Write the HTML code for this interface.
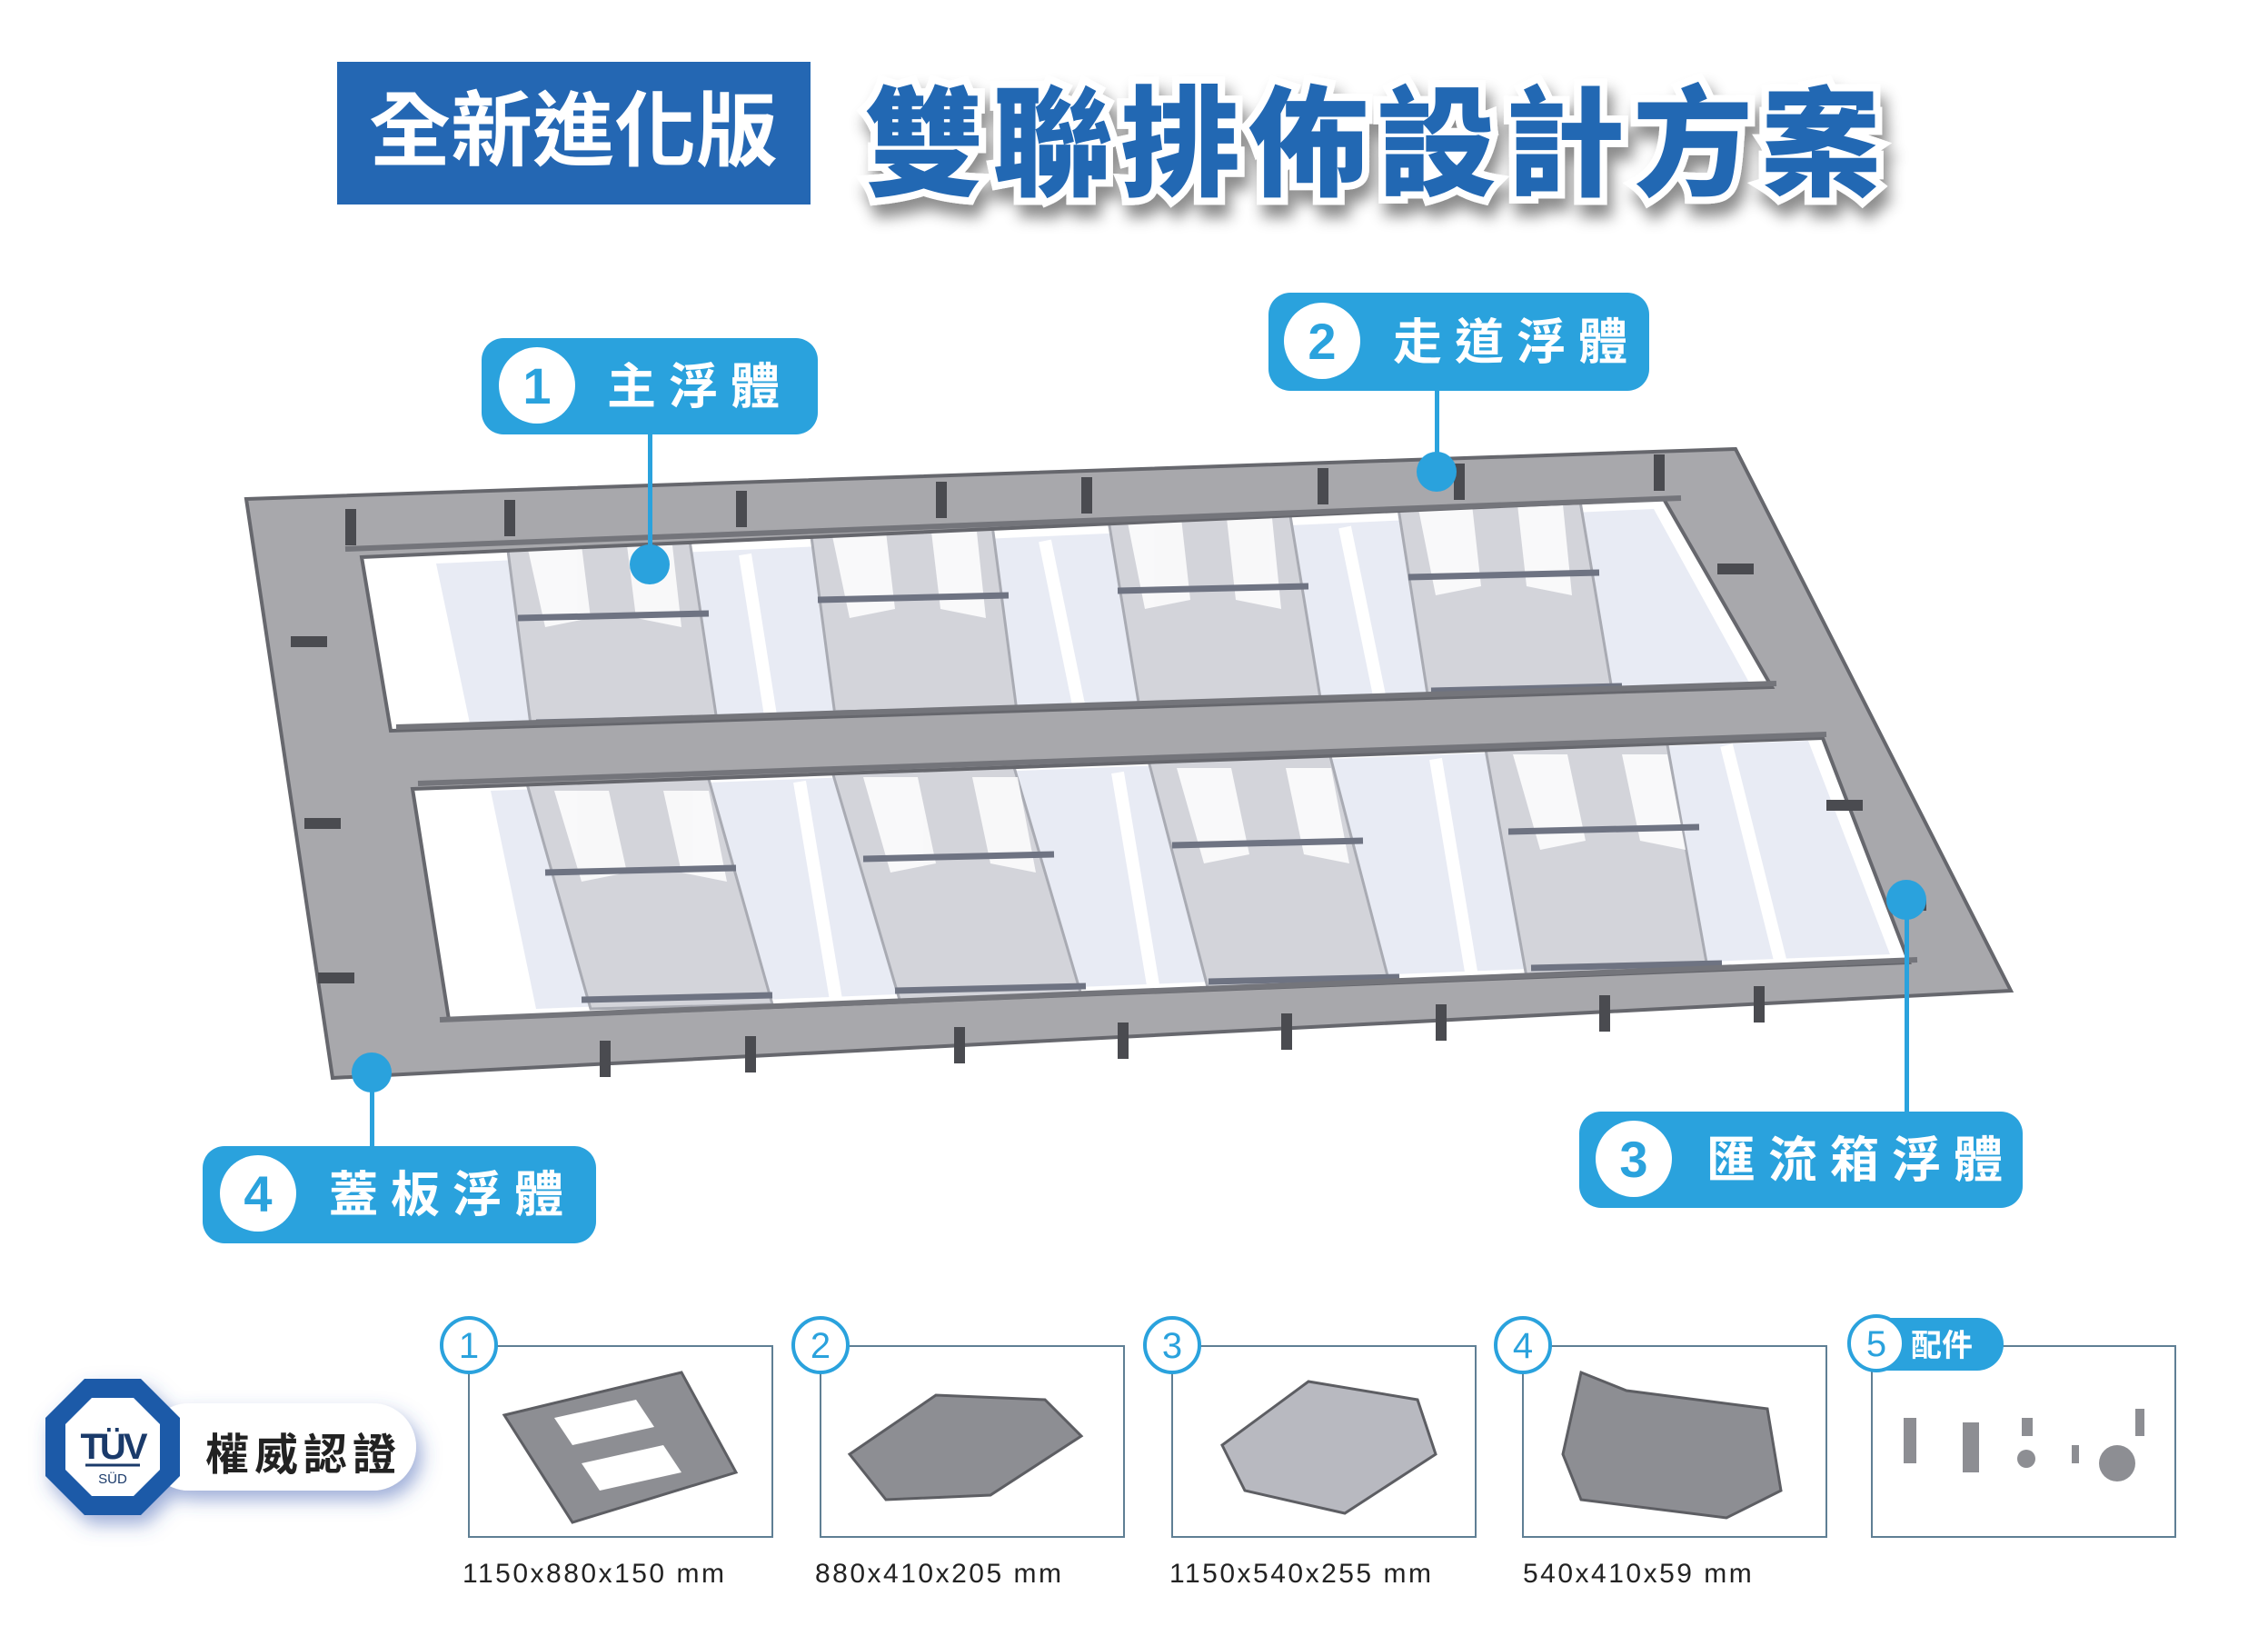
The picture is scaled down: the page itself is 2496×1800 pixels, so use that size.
<!DOCTYPE html>
<html><head><meta charset="utf-8"><style>
html,body{margin:0;padding:0;background:#fff;}
svg{display:block;}
text{font-family:"Liberation Sans","Noto Sans CJK TC",sans-serif;}
</style></head><body>
<svg width="2496" height="1800" viewBox="0 0 2496 1800" xmlns="http://www.w3.org/2000/svg">
<defs>
<filter id="sh" x="-10%" y="-20%" width="130%" height="160%"><feDropShadow dx="6" dy="14" stdDeviation="8" flood-color="#000" flood-opacity="0.45"/></filter>
<filter id="sh2" x="-20%" y="-20%" width="150%" height="160%"><feDropShadow dx="6" dy="10" stdDeviation="10" flood-color="#3b5bb0" flood-opacity="0.5"/></filter>
</defs>
<rect x="371" y="68" width="521" height="157" fill="#2467b3"/>
<text x="631" y="175" font-size="90" font-weight="bold" fill="#fff" text-anchor="middle" font-family="Noto Sans CJK TC,sans-serif">全新進化版</text>
<text x="1515" y="205" font-size="132" font-weight="900" fill="#2467b3" stroke="#fff" stroke-width="16" paint-order="stroke" text-anchor="middle" letter-spacing="9" filter="url(#sh)" font-family="Noto Sans CJK TC,sans-serif">雙聯排佈設計方案</text>

<g fill="#e6e9f3" opacity="0.9">
<polygon points="480,620 1820,560 1930,760 520,810"/>
<polygon points="540,870 1990,815 2080,1050 590,1110"/>
</g>
<g stroke="#fff" stroke-width="14">
<line x1="820" y1="610" x2="850" y2="800"/><line x1="1150" y1="595" x2="1190" y2="790"/><line x1="1480" y1="580" x2="1520" y2="775"/>
<line x1="880" y1="860" x2="920" y2="1100"/><line x1="1230" y1="850" x2="1270" y2="1090"/><line x1="1580" y1="835" x2="1620" y2="1075"/><line x1="1900" y1="820" x2="1960" y2="1060"/>
</g>
<g fill="#d3d4da" stroke="#a9abb3" stroke-width="3">
<polygon points="553,560 753,555 790,800 585,805"/>
<polygon points="887,545 1087,540 1120,790 920,795"/>
<polygon points="1213,530 1413,525 1455,780 1255,785"/>
<polygon points="1532,515 1732,510 1775,765 1572,770"/>
<polygon points="568,820 768,815 850,1105 650,1110"/>
<polygon points="903,805 1103,800 1190,1095 990,1100"/>
<polygon points="1253,795 1453,790 1530,1085 1330,1090"/>
<polygon points="1627,780 1827,775 1880,1070 1680,1075"/>
</g>
<g fill="#fff" opacity="0.85">
<polygon points="580,600 640,600 650,680 600,690"/><polygon points="690,600 740,600 750,690 700,680"/>
<polygon points="915,585 975,585 985,670 935,680"/><polygon points="1025,585 1075,585 1085,680 1035,670"/>
<polygon points="1240,570 1300,570 1310,660 1260,670"/><polygon points="1350,570 1400,570 1410,670 1360,660"/>
<polygon points="1560,555 1620,555 1630,645 1580,655"/><polygon points="1670,555 1720,555 1730,655 1680,645"/>
<polygon points="610,870 670,870 690,960 640,970"/><polygon points="730,870 780,870 800,970 750,960"/>
<polygon points="950,855 1010,855 1030,950 980,960"/><polygon points="1070,855 1120,855 1140,960 1090,950"/>
<polygon points="1295,845 1355,845 1375,940 1325,950"/><polygon points="1415,845 1465,845 1485,950 1435,940"/>
<polygon points="1665,830 1725,830 1745,925 1695,935"/><polygon points="1785,830 1835,830 1855,935 1805,925"/>
</g>
<g stroke="#6e7382" stroke-width="7">
<line x1="560" y1="570" x2="770" y2="565"/><line x1="570" y1="680" x2="780" y2="675"/><line x1="590" y1="795" x2="800" y2="790"/>
<line x1="890" y1="555" x2="1100" y2="550"/><line x1="900" y1="660" x2="1110" y2="655"/><line x1="920" y1="785" x2="1130" y2="780"/>
<line x1="1215" y1="540" x2="1425" y2="535"/><line x1="1230" y1="650" x2="1440" y2="645"/><line x1="1260" y1="775" x2="1465" y2="770"/>
<line x1="1535" y1="525" x2="1745" y2="520"/><line x1="1550" y1="635" x2="1760" y2="630"/><line x1="1575" y1="760" x2="1785" y2="755"/>
<line x1="570" y1="835" x2="780" y2="830"/><line x1="600" y1="960" x2="810" y2="955"/><line x1="640" y1="1100" x2="850" y2="1095"/>
<line x1="905" y1="820" x2="1115" y2="815"/><line x1="950" y1="945" x2="1160" y2="940"/><line x1="985" y1="1090" x2="1195" y2="1085"/>
<line x1="1255" y1="810" x2="1465" y2="805"/><line x1="1290" y1="930" x2="1500" y2="925"/><line x1="1330" y1="1080" x2="1540" y2="1075"/>
<line x1="1630" y1="795" x2="1840" y2="790"/><line x1="1660" y1="915" x2="1870" y2="910"/><line x1="1685" y1="1065" x2="1895" y2="1060"/>
</g>

<path fill-rule="evenodd" fill="#a8a8ac" stroke="#66676d" stroke-width="4"
d="M271,549 L1910,494 L2213,1090 L366,1186 Z
M398,613 L1831,549 L1950,756 L430,804 Z
M454,868 L2006,812 L2101,1059 L494,1122 Z"/>
<g stroke="#74757b" stroke-width="6" fill="none">
<path d="M380,604 L1850,548"/><path d="M436,800 L1955,752"/><path d="M460,862 L2010,808"/><path d="M484,1122 L2110,1056"/>
</g>
<g fill="#4a4b50">
<rect x="380" y="560" width="12" height="40"/><rect x="555" y="550" width="12" height="40"/><rect x="810" y="540" width="12" height="40"/><rect x="1030" y="530" width="12" height="40"/><rect x="1190" y="525" width="12" height="40"/><rect x="1450" y="515" width="12" height="40"/><rect x="1600" y="510" width="12" height="40"/><rect x="1820" y="500" width="12" height="40"/>
<rect x="820" y="1140" width="12" height="40"/><rect x="1050" y="1130" width="12" height="40"/><rect x="1230" y="1125" width="12" height="40"/><rect x="1410" y="1115" width="12" height="40"/><rect x="1580" y="1105" width="12" height="40"/><rect x="1760" y="1095" width="12" height="40"/><rect x="1930" y="1085" width="12" height="40"/><rect x="660" y="1145" width="12" height="40"/>
<rect x="320" y="700" width="40" height="12"/><rect x="335" y="900" width="40" height="12"/><rect x="350" y="1070" width="40" height="12"/>
<rect x="1890" y="620" width="40" height="12"/><rect x="2010" y="880" width="40" height="12"/><rect x="2080" y="990" width="40" height="12"/>
</g>

<g fill="#2aa2dd">
<rect x="530" y="372" width="370" height="106" rx="24"/>
<rect x="1396" y="322" width="419" height="108" rx="24"/>
<rect x="1738" y="1223" width="488" height="106" rx="24"/>
<rect x="223" y="1261" width="433" height="107" rx="24"/>
<rect x="713" y="478" width="5" height="143"/><circle cx="715" cy="621" r="22"/>
<rect x="1579" y="430" width="5" height="89"/><circle cx="1581" cy="519" r="22"/>
<rect x="2096" y="990" width="5" height="233"/><circle cx="2098" cy="990" r="22"/>
<rect x="407" y="1180" width="5" height="81"/><circle cx="409" cy="1180" r="22"/>
</g>
<g fill="#fff"><circle cx="591" cy="424" r="42"/><circle cx="1455" cy="375" r="42"/><circle cx="1798" cy="1275" r="42"/><circle cx="284" cy="1313" r="42"/></g>
<g fill="#2aa2dd" font-size="56" font-weight="bold" text-anchor="middle">
<text x="591" y="444">1</text><text x="1455" y="395">2</text><text x="1798" y="1295">3</text><text x="284" y="1333">4</text></g>
<g fill="#fff" font-size="54" font-weight="bold" letter-spacing="14" font-family="Noto Sans CJK TC,sans-serif">
<text x="668" y="444">主浮體</text><text x="1533" y="395">走道浮體</text><text x="1878" y="1295">匯流箱浮體</text><text x="362" y="1333">蓋板浮體</text></g>

<g fill="#fff" filter="url(#sh2)">
<rect x="160" y="1544" width="298" height="96" rx="48"/>
<polygon points="93,1517 155,1517 198,1560 198,1624 155,1667 93,1667 50,1624 50,1560" fill="#1a5aa8"/>
</g>
<polygon points="101,1538 147,1538 176,1567 176,1617 147,1646 101,1646 72,1617 72,1567" fill="#fff"/>
<text x="124" y="1605" font-size="40" font-weight="bold" fill="#1a3a6a" text-anchor="middle" letter-spacing="-3">TÜV</text>
<line x1="94" y1="1612" x2="154" y2="1612" stroke="#1a3a6a" stroke-width="3"/>
<text x="124" y="1632" font-size="15" fill="#1a3a6a" text-anchor="middle">SÜD</text>
<text x="226" y="1617" font-size="48" font-weight="bold" fill="#222" letter-spacing="6" font-family="Noto Sans CJK TC,sans-serif">權威認證</text>

<g fill="none" stroke="#5f7f94" stroke-width="2">
<rect x="516" y="1481" width="334" height="210"/><rect x="903" y="1481" width="334" height="210"/><rect x="1290" y="1481" width="334" height="210"/><rect x="1676" y="1481" width="334" height="210"/><rect x="2060" y="1481" width="334" height="210"/>
</g>
<rect x="2040" y="1450" width="165" height="58" rx="29" fill="#2aa2dd"/>
<text x="2103" y="1492" font-size="34" font-weight="bold" fill="#fff" font-family="Noto Sans CJK TC,sans-serif">配件</text>
<g fill="#fff" stroke="#2aa2dd" stroke-width="4">
<circle cx="516" cy="1480" r="30"/><circle cx="903" cy="1480" r="30"/><circle cx="1290" cy="1480" r="30"/><circle cx="1676" cy="1480" r="30"/><circle cx="2065" cy="1478" r="30"/></g>
<g fill="#2aa2dd" font-size="40" text-anchor="middle">
<text x="516" y="1494">1</text><text x="903" y="1494">2</text><text x="1290" y="1494">3</text><text x="1676" y="1494">4</text><text x="2065" y="1492">5</text></g>
<g fill="#8d8e93" stroke="#5d5e63" stroke-width="3">
<polygon points="555,1557 750,1510 810,1620 630,1675"/>
<polygon points="935,1600 1030,1535 1150,1540 1190,1580 1090,1645 975,1650"/>
<polygon points="1345,1590 1440,1520 1560,1540 1580,1600 1480,1665 1370,1640" fill="#b8b9c0"/>
<polygon points="1740,1510 1790,1530 1945,1550 1960,1640 1900,1670 1740,1650 1720,1600"/>
</g>
<g fill="#fff"><polygon points="610,1560 700,1540 720,1570 630,1590"/><polygon points="640,1610 730,1590 750,1620 660,1640"/></g>
<g fill="#8d8e93">
<rect x="2095" y="1560" width="14" height="50"/><rect x="2160" y="1565" width="18" height="55"/><circle cx="2230" cy="1605" r="10"/><rect x="2225" y="1560" width="12" height="20"/><rect x="2280" y="1590" width="8" height="20"/><circle cx="2330" cy="1610" r="20"/><rect x="2350" y="1550" width="10" height="30"/></g>
<g fill="#222" font-size="30" letter-spacing="2.5">
<text x="509" y="1741">1150x880x150 mm</text><text x="897" y="1741">880x410x205 mm</text><text x="1287" y="1741">1150x540x255 mm</text><text x="1676" y="1741">540x410x59 mm</text></g>
</svg>
</body></html>
